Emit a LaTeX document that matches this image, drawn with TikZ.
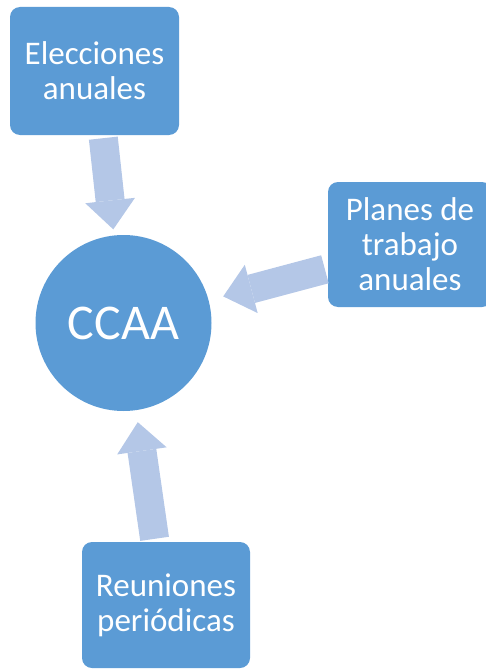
\documentclass[tikz,border=0pt]{standalone}
\usepackage{fontspec}
\setmainfont{Carlito}
\usetikzlibrary{arrows.meta}
\definecolor{boxblue}{HTML}{5B9BD5}
\definecolor{arrowblue}{HTML}{B4C7E7}
\tikzset{
box/.style={fill=boxblue,rounded corners=10pt,text=white,align=center,inner sep=0pt,font=\fontsize{33}{35}\selectfont},
hub/.style={circle,fill=boxblue,text=white,inner sep=0pt,minimum size=176pt,font=\fontsize{50}{60}\selectfont},
fatarrow/.style={draw=arrowblue,line width=29pt,-{Triangle[length=29pt,width=50pt,line width=0pt]},shorten <=3pt}
}

\begin{document}
\begin{tikzpicture}[x=1pt,y=1pt]
\useasboundingbox (0,0) rectangle (486,-669);
\node[box,minimum width=169pt,minimum height=128pt] (elec) at (94.5,-71) {Elecciones\\anuales};
\node[box,minimum width=164pt,minimum height=125pt] (plan) at (410,-244.5) {Planes de\\trabajo\\anuales};
\node[box,minimum width=168pt,minimum height=126pt] (reun) at (166,-605) {Reuniones\\periódicas};
\node[hub] (ccaa) at (123.5,-323) {CCAA};
% flechas hacia el centro
\draw[fatarrow,shorten >=6pt] ([xshift=8.5pt]elec.south) -- (ccaa);
\draw[fatarrow,shorten >=15pt] ([yshift=-24pt]plan.west) -- (ccaa);
\draw[fatarrow,shorten >=12pt] ([xshift=-11pt]reun.north) -- (ccaa);
\end{tikzpicture}
\end{document}
